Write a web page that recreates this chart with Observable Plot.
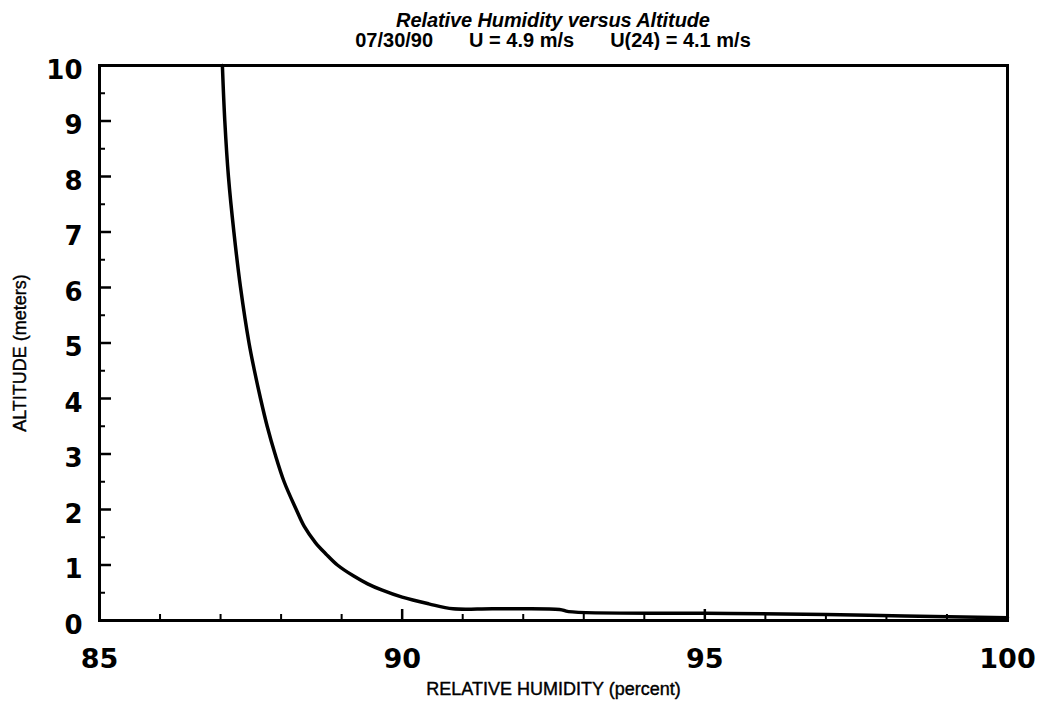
<!DOCTYPE html>
<html>
<head>
<meta charset="utf-8">
<script src="https://cdn.jsdelivr.net/npm/d3@7"></script>
<script src="https://cdn.jsdelivr.net/npm/@observablehq/plot@0.6"></script>
<style>
  body { margin: 0; background: white; }
  #wrap { position: relative; width: 1042px; height: 705px; background: white; }
  .t { position: absolute; left: 99px; width: 908px; text-align: center; font-family: "Liberation Sans", Arial, sans-serif; color: black; white-space: pre; line-height: 20px; font-size: 20px; font-weight: bold; }
  #t1 { top: 10px; font-style: italic; letter-spacing: -0.1px; }
  #t2 { top: 30px; }
  #t2 span + span { margin-left: 36px; }
  #chart { position: absolute; left: 0; top: 50px; }
</style>
</head>
<body>
<div id="wrap">
  <div class="t" id="t1">Relative Humidity versus Altitude</div>
  <div class="t" id="t2"><span>07/30/90</span><span>U = 4.9 m/s</span><span>U(24) = 4.1 m/s</span></div>
  <div id="chart"></div>
</div>
<script>
const humidity = [87.03, 87.07, 87.13, 87.22, 87.33, 87.47, 87.56, 87.66, 87.77, 87.90, 88.05, 88.25, 88.38, 88.57, 88.74, 88.93, 89.20, 89.43, 89.66, 90.00, 90.44, 90.84, 91.5, 92.6, 92.75, 95.0, 97.0, 98.3, 100.0];
const altitude = [10, 9, 8, 7, 6, 5, 4.5, 4, 3.5, 3, 2.5, 2, 1.7, 1.4, 1.2, 1.0, 0.8, 0.66, 0.55, 0.42, 0.30, 0.21, 0.21, 0.20, 0.16, 0.13, 0.11, 0.08, 0.05];
const xTickLabels = [85, 90, 95, 100];
const yTickLabels = [0, 1, 2, 3, 4, 5, 6, 7, 8, 9, 10];
const xMinorTicks = [86, 87, 88, 89, 91, 92, 93, 94, 96, 97, 98, 99];
const xMajorTicks = [90, 95];
const yMinorTicks = [0.5, 1.5, 2.5, 3.5, 4.5, 5.5, 6.5, 7.5, 8.5, 9.5];
const yMajorTicks = [1, 2, 3, 4, 5, 6, 7, 8, 9];
const xLabel = "RELATIVE HUMIDITY (percent)";
const yLabel = "ALTITUDE (meters)";

const data = humidity.map((h, i) => ({h, a: altitude[i]}));

const W = 1042, H = 655, mL = 99, mR = 35, mT = 15, mB = 85;
const fw = W - mL - mR, fh = H - mT - mB;
const bold = "DejaVu Sans";

const chart = Plot.plot({
  width: W, height: H,
  marginLeft: mL, marginRight: mR, marginTop: mT, marginBottom: mB,
  x: {domain: [85, 100], axis: null},
  y: {domain: [0, 10], axis: null},
  style: {fontFamily: "Liberation Sans, Arial, sans-serif", background: "white", color: "black", overflow: "visible"},
  marks: [
    Plot.tickX(xMinorTicks, {x: d => d, insetTop: fh - 6, stroke: "black", strokeWidth: 2}),
    Plot.tickX(xMajorTicks, {x: d => d, insetTop: fh - 11, stroke: "black", strokeWidth: 2.5}),
    Plot.tickY(yMinorTicks, {y: d => d, insetRight: fw - 6, stroke: "black", strokeWidth: 2}),
    Plot.tickY(yMajorTicks, {y: d => d, insetRight: fw - 12, stroke: "black", strokeWidth: 2.5}),
    Plot.line(data, {x: "h", y: "a", curve: "catmull-rom", stroke: "black", strokeWidth: 3.5, strokeLinejoin: "round"}),
    Plot.frame({stroke: "black", strokeWidth: 3}),
    Plot.text(yTickLabels, {x: 85, y: d => d, text: d => String(d), textAnchor: "end", dx: -17, dy: 5, fontSize: 26, fontWeight: "bold", fontFamily: bold}),
    Plot.text(xTickLabels, {x: d => d, y: 0, text: d => String(d), dy: 39, fontSize: 27, fontWeight: "bold", fontFamily: bold, letterSpacing: 2}),
    Plot.text([xLabel], {frameAnchor: "bottom", textAnchor: "middle", dy: 74, fontSize: 18, fill: "black", stroke: "black", strokeWidth: 0.4}),
    Plot.text([yLabel], {frameAnchor: "left", textAnchor: "middle", dx: -79, dy: 10, rotate: -90, fontSize: 18, fill: "black", stroke: "black", strokeWidth: 0.4})
  ]
});
document.getElementById("chart").appendChild(chart);
</script>
</body>
</html>
